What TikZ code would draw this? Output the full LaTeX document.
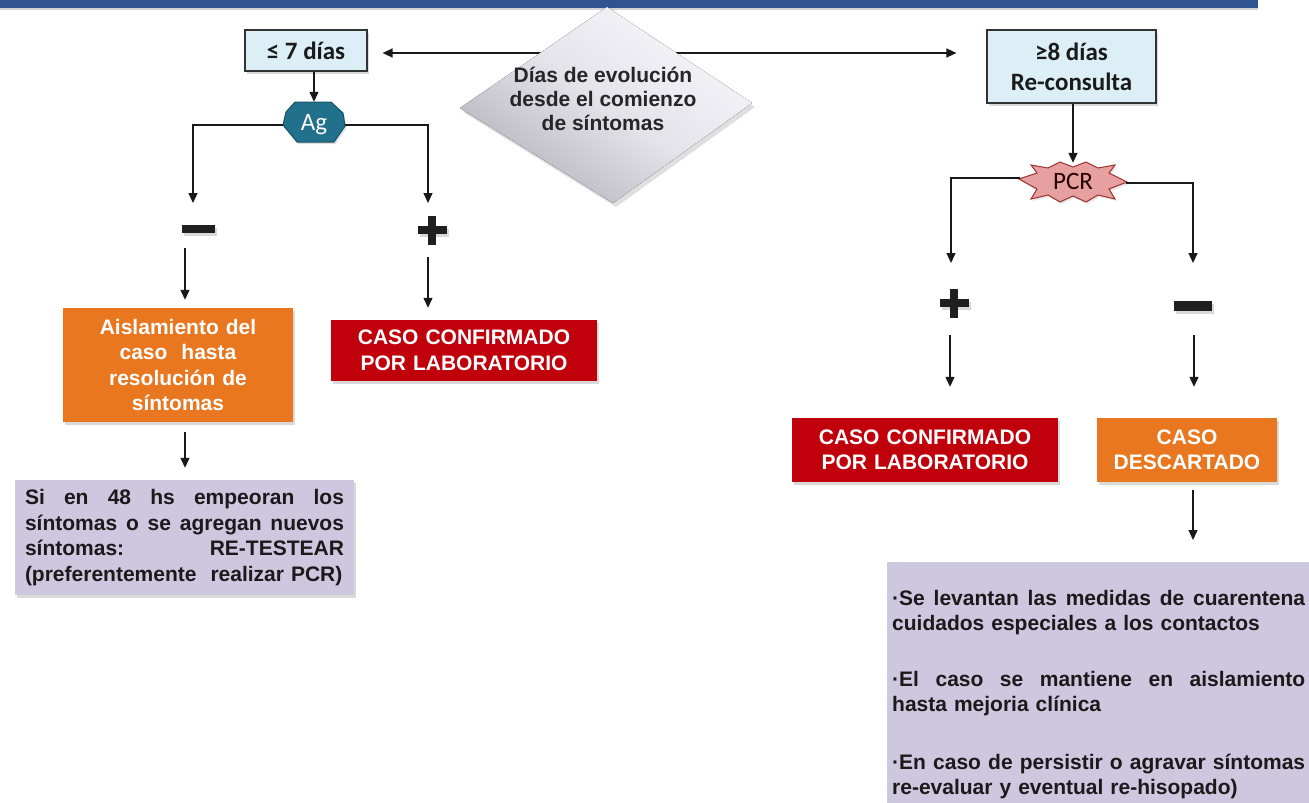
\documentclass[tikz,border=0pt]{standalone}
\usepackage{fontspec}
\setmainfont{Liberation Sans}
\newfontfamily\calib{Carlito}
\usetikzlibrary{arrows.meta,shadows,calc}
\definecolor{barblue}{HTML}{2F548F}
\definecolor{boxblue}{HTML}{DDEFF6}
\definecolor{agteal}{HTML}{21708C}
\definecolor{agedge}{HTML}{174F63}
\definecolor{pcrfill}{HTML}{E6A0A0}
\definecolor{pcredge}{HTML}{A03030}
\definecolor{orng}{HTML}{E8771F}
\definecolor{redbox}{HTML}{C0000B}
\definecolor{lav}{HTML}{CDC7DF}
\definecolor{dtext}{HTML}{1A1A1A}
\definecolor{diatop}{HTML}{F7F6FA}
\definecolor{diamid}{HTML}{E4E3EA}
\definecolor{diabot}{HTML}{B4B3BC}
\newcommand\arb{\fontsize{21}{25.5}\selectfont\bfseries}
\newcommand\jline[2]{\leavevmode\hbox to #1{#2}}
\begin{document}
\begin{tikzpicture}[x=1pt,y=-1pt,
  shd/.style={drop shadow={opacity=0.3,shadow xshift=2pt,shadow yshift=-2.5pt}},
  ln/.style={line width=1.3pt,black!90},
  arr/.style={ln,-{Triangle[length=10pt,width=9pt]}},
  daybox/.style={draw=black!80,line width=1.2pt,fill=boxblue,shd,inner sep=0pt,align=center,
     font=\calib\bfseries\fontsize{25}{30}\selectfont,text=dtext},
  colbox/.style={shd,inner sep=0pt,align=center,text=white,font=\arb},
  lavbox/.style={fill=lav,shd,inner sep=0pt},
  signbar/.style={fill=black!88,shd,inner sep=0pt,draw=none}]
\useasboundingbox (0,0) rectangle (1309,803);
\clip (0,0) rectangle (1309,803);
% header bar
\fill[barblue,drop shadow={opacity=0.35,shadow xshift=0pt,shadow yshift=-2pt}] (0,-2) rectangle (1258,8);

% boxes of the first level
\node[daybox,minimum width=122pt,minimum height=41pt] (lt7) at (306,50.5) {≤ 7 días};
\node[daybox,minimum width=169pt,minimum height=73pt] (ge8) at (1071.5,66.5) {≥8 días\\Re-consulta};

% horizontal arrows from the diamond (drawn below it)
\coordinate (hub) at (606,53);
\draw[arr,shorten >=15pt] (hub) -- (hub -| lt7.east);
\draw[arr,shorten >=30pt] (hub) -- (hub -| ge8.west);

% diamond
\fill[top color=diatop,bottom color=diabot,middle color=diamid,shading angle=-35,
      drop shadow={opacity=0.25,shadow xshift=3pt,shadow yshift=-4pt}]
  (607,7) -- (752,103) -- (613,203) -- (460,108) -- cycle;
\node[align=center,text=black!85,font=\fontsize{21}{24}\selectfont\bfseries,inner sep=0pt] (dia) at (603,99)
  {Días de evolución\\desde el comienzo\\de síntomas};

% Ag heptagon
\coordinate (agc) at (314,125);
\filldraw[fill=agteal,draw=agedge,line width=1pt,shift={(agc)},drop shadow={opacity=0.25,shadow xshift=1.5pt,shadow yshift=-2pt}]
  (-19,-23) -- (17,-23) -- (29,-12) -- (31,1) -- (20,17) -- (-17,17) -- (-31,0) -- (-28,-13) -- cycle;
\node[minimum width=62pt,minimum height=46pt,inner sep=0pt,text=white,font=\calib\fontsize{25}{28}\selectfont] (ag) at (agc) {\raisebox{2pt}{Ag}};

% PCR star
\coordinate (pcrc) at (1073,181);
\filldraw[fill=pcrfill,draw=pcredge,line width=1pt,shift={(pcrc)},drop shadow={opacity=0.2,shadow xshift=1.5pt,shadow yshift=-2pt}]
  (-54,-2) -- (-36,-8) -- (-42,-16) -- (-25,-13) -- (-13,-19) -- (0,-14) -- (13,-19) -- (25,-13) -- (42,-16) -- (36,-8)
  -- (54,1) -- (36,8) -- (42,18) -- (25,14) -- (13,21) -- (0,15) -- (-13,21) -- (-25,14) -- (-42,18) -- (-36,8) -- cycle;
\node[minimum width=106pt,minimum height=36pt,inner sep=0pt,text=black!75!red!60!black,font=\calib\fontsize{25}{28}\selectfont] (pcr) at (pcrc) {PCR};

\draw[arr] (lt7.south -| ag.north) -- (ag.north);
\draw[arr] (ge8.south -| pcr.north) -- (pcr.north);

% branch tips
\coordinate (tipL) at (193,203);
\coordinate (tipR) at (428,203);
\coordinate (tipPL) at (951,263);
\coordinate (tipPR) at (1193,263);
\draw[arr] (ag.west) -| (tipL);
\draw[arr] (ag.east) -| (tipR);
\draw[arr] ([yshift=3pt]pcr.west) -| (tipPL);
\draw[arr] ([yshift=-2pt]pcr.east) -| (tipPR);

% signs
\node[signbar,minimum width=33pt,minimum height=8pt] (negL) at (198,229) {};
\node[minimum size=29pt,inner sep=0pt] (posL) at (432,230) {};
\fill[black!88,shd] ([xshift=-14.5pt,yshift=4pt]posL.center) rectangle ([xshift=14.5pt,yshift=-4pt]posL.center);
\fill[black!88] ([xshift=-4pt,yshift=14.5pt]posL.center) rectangle ([xshift=4pt,yshift=-14.5pt]posL.center);
\node[minimum size=29pt,inner sep=0pt] (posR) at (954,303) {};
\fill[black!88,shd] ([xshift=-14.5pt,yshift=4pt]posR.center) rectangle ([xshift=14.5pt,yshift=-4pt]posR.center);
\fill[black!88] ([xshift=-4pt,yshift=14.5pt]posR.center) rectangle ([xshift=4pt,yshift=-14.5pt]posR.center);
\node[signbar,minimum width=38pt,minimum height=10pt] (negR) at (1193,306) {};

% result boxes
\node[colbox,fill=orng,minimum width=230pt,minimum height=114pt,text width=220pt] (aisl) at (178,365)
  {Aislamiento del\\caso\ \ hasta\\resolución de\\síntomas};
\node[colbox,fill=redbox,minimum width=266pt,minimum height=61pt,text width=260pt] (redL) at (464,350.5)
  {CASO CONFIRMADO\\POR LABORATORIO};
\node[colbox,fill=redbox,minimum width=266pt,minimum height=64pt,text width=260pt] (redR) at (925,450)
  {CASO CONFIRMADO\\POR LABORATORIO};
\node[colbox,fill=orng,minimum width=180pt,minimum height=64pt,text width=175pt] (desc) at (1187,450)
  {CASO\\DESCARTADO};

% arrows to result boxes
\coordinate (s1) at (185,248);
\draw[arr,shorten >=8pt] (s1) -- (s1 |- aisl.north);
\coordinate (s2) at (428,257);
\draw[arr,shorten >=12pt] (s2) -- (s2 |- redL.north);
\coordinate (s3) at (950,335);
\draw[arr,shorten >=31pt] (s3) -- (s3 |- redR.north);
\coordinate (s4) at (1194,335);
\draw[arr,shorten >=31pt] (s4) -- (s4 |- desc.north);

% lavender notes
\node[lavbox,minimum width=339pt,minimum height=115pt,text width=319pt,align=left,font=\arb,text=dtext] (note) at (184.5,537.5)
  {\jline{319pt}{Si\hfill en\hfill 48\hfill hs\hfill empeoran\hfill los}\\
   \jline{319pt}{síntomas\hfill o\hfill se\hfill agregan\hfill nuevos}\\
   \jline{319pt}{síntomas:\hfill RE-TESTEAR}\\
   (preferentemente\ \ realizar PCR)};
\draw[arr,shorten <=10pt,shorten >=12pt] (s1 |- aisl.south) -- (s1 |- note.north);

\node[lavbox,anchor=north west,minimum width=460pt,minimum height=260pt] (lavR) at (887,562) {};
\node[anchor=north west,inner sep=0pt,align=left,text width=414pt,font=\arb,text=dtext] (lavRtext) at (892,590)
  {\jline{413pt}{·Se\hfill levantan\hfill las\hfill medidas\hfill de\hfill cuarentena}\\
   cuidados especiales a los contactos\\[30pt]
   \jline{413pt}{·El\hfill caso\hfill se\hfill mantiene\hfill en\hfill aislamiento}\\
   hasta mejoria clínica\\[32pt]
   \jline{413pt}{·En\hfill caso\hfill de\hfill persistir\hfill o\hfill agravar\hfill síntomas}\\
   re-evaluar y eventual re-hisopado)};
\coordinate (s5) at (1193,490);
\draw[arr,shorten >=22pt] (s5) -- (s5 |- lavR.north);
\end{tikzpicture}
\end{document}
